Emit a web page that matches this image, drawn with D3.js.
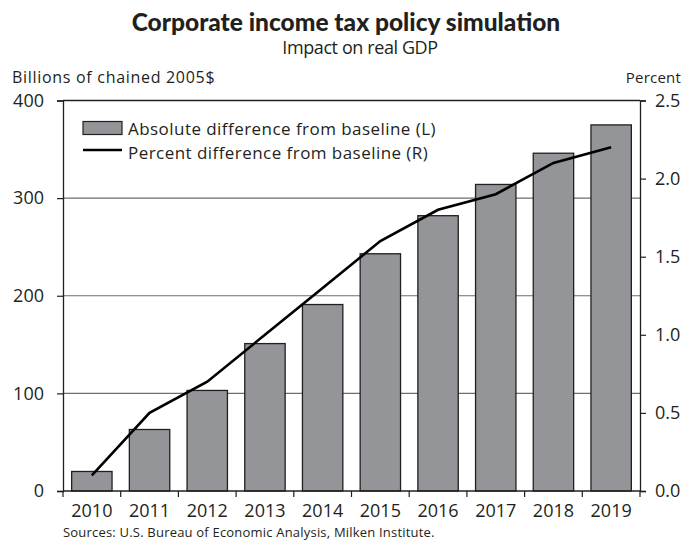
<!DOCTYPE html>
<html>
<head>
<meta charset="utf-8">
<script src="https://cdn.jsdelivr.net/npm/d3@7"></script>
<style>
  html, body { margin: 0; padding: 0; background: #fff; }
  svg { display: block; font-family: "Open Sans", "Noto Sans", sans-serif; }
</style>
</head>
<body>
<svg id="chart" width="685" height="541"></svg>
<script>
// GDP impact of the corporate income tax simulation, 2010-2019
const years = ["2010", "2011", "2012", "2013", "2014", "2015", "2016", "2017", "2018", "2019"];
const absoluteDiff = [20, 63, 103, 151, 191, 243, 282, 314, 346, 375];   // billions of chained 2005$
const percentDiff = [0.1, 0.5, 0.7, 1.0, 1.3, 1.6, 1.8, 1.9, 2.1, 2.2];  // percent
const leftTicks = [0, 100, 200, 300, 400];
const rightTicks = [0, 0.5, 1.0, 1.5, 2.0, 2.5];
const legendLabels = ["Absolute difference from baseline (L)", "Percent difference from baseline (R)"];

const W = 685, H = 541;
const margin = { top: 100.5, right: 45, bottom: 50, left: 63 };
const ink = "#231f20";
const font = "'Open Sans', 'Noto Sans', sans-serif";
const svg = d3.select("#chart");

const x = d3.scaleBand().domain(years)
  .range([margin.left, W - margin.right]).paddingInner(0.3).paddingOuter(0.15);
const yL = d3.scaleLinear().domain([0, 400]).range([H - margin.bottom, margin.top]);
const yR = d3.scaleLinear().domain([0, 2.5]).range([H - margin.bottom, margin.top]);

// horizontal gridlines
svg.append("g").selectAll("line")
  .data(leftTicks.filter(d => d > 0 && d < 400)).join("line")
  .attr("x1", margin.left).attr("x2", W - margin.right)
  .attr("y1", d => yL(d)).attr("y2", d => yL(d))
  .attr("stroke", "#6d6e71").attr("stroke-width", 1.2);

// bars
svg.append("g").selectAll("rect")
  .data(years).join("rect")
  .attr("x", d => x(d))
  .attr("width", x.bandwidth())
  .attr("y", (d, i) => yL(absoluteDiff[i]))
  .attr("height", (d, i) => yL(0) - yL(absoluteDiff[i]))
  .attr("fill", "#939598")
  .attr("stroke", ink).attr("stroke-width", 1.3);

// percent line
const line = d3.line()
  .x((d, i) => x(years[i]) + x.bandwidth() / 2)
  .y(d => yR(d));
svg.append("path").datum(percentDiff)
  .attr("d", line).attr("fill", "none")
  .attr("stroke", "#000").attr("stroke-width", 2.6);

// top border of the frame
svg.append("line")
  .attr("x1", margin.left).attr("x2", W - margin.right)
  .attr("y1", yL(400)).attr("y2", yL(400))
  .attr("stroke", ink).attr("stroke-width", 1.3);

// left axis
const leftAxis = svg.append("g")
  .attr("transform", `translate(${margin.left},0)`)
  .call(d3.axisLeft(yL).tickValues(leftTicks).tickSize(6).tickPadding(5).tickFormat(d3.format("d")));
// right axis
const rightAxis = svg.append("g")
  .attr("transform", `translate(${W - margin.right},0)`)
  .call(d3.axisRight(yR).tickValues(rightTicks).tickSize(6).tickPadding(9).tickFormat(d3.format(".1f")));
// bottom axis, with ticks on the band boundaries
const bottomAxis = svg.append("g")
  .attr("transform", `translate(0,${H - margin.bottom})`)
  .call(d3.axisBottom(x).tickSize(0).tickPadding(13));
const boundaries = d3.range(years.length + 1)
  .map(i => margin.left + i * (W - margin.left - margin.right) / years.length);
bottomAxis.selectAll(".bnd").data(boundaries).join("line")
  .attr("class", "bnd")
  .attr("x1", d => d).attr("x2", d => d).attr("y1", 0).attr("y2", 6)
  .attr("stroke", ink).attr("stroke-width", 1.2);

[leftAxis, rightAxis, bottomAxis].forEach(g => {
  g.select(".domain").attr("stroke", ink).attr("stroke-width", 1.3);
  g.selectAll(".tick line").attr("stroke", ink).attr("stroke-width", 1.2);
  g.selectAll("text").attr("fill", ink).style("font-size", "18px").style("font-family", font);
});
leftAxis.selectAll("text").attr("text-anchor", "end").attr("x", -19);
bottomAxis.select(".domain").attr("d", `M${margin.left},0H${W - margin.right}`);

// titles and notes
svg.append("text").attr("x", 346).attr("y", 31).attr("text-anchor", "middle")
  .style("font-family", "Lato, 'Open Sans', sans-serif")
  .style("font-size", "24.5px").style("font-weight", "900").attr("fill", ink)
  .text("Corporate income tax policy simulation");
svg.append("text").attr("x", 360).attr("y", 54).attr("text-anchor", "middle")
  .style("font-size", "18px").style("letter-spacing", "-0.4px").attr("fill", ink)
  .text("Impact on real GDP");
svg.append("text").attr("x", 12).attr("y", 83)
  .style("font-size", "16px").style("letter-spacing", "0.7px").attr("fill", ink)
  .text("Billions of chained 2005$");
svg.append("text").attr("x", 681).attr("y", 83).attr("text-anchor", "end")
  .style("font-size", "15px").style("letter-spacing", "0.2px").attr("fill", ink)
  .text("Percent");
svg.append("text").attr("x", 63).attr("y", 537)
  .style("font-size", "13px").style("letter-spacing", "0.2px").attr("fill", ink)
  .text("Sources: U.S. Bureau of Economic Analysis, Milken Institute.");

// legend
const lg = svg.append("g").attr("transform", "translate(83,121.5)");
lg.append("rect").attr("x", 0).attr("y", 0).attr("width", 39).attr("height", 13)
  .attr("fill", "#939598").attr("stroke", ink).attr("stroke-width", 1.2);
lg.append("line").attr("x1", 0).attr("x2", 39).attr("y1", 28.5).attr("y2", 28.5)
  .attr("stroke", "#000").attr("stroke-width", 2.4);
lg.selectAll("text.lab").data(legendLabels).join("text")
  .attr("class", "lab")
  .attr("x", 45).attr("y", (d, i) => 13 + i * 24.5)
  .style("font-size", "17px").style("letter-spacing", "0.45px").attr("fill", ink)
  .text(d => d);
</script>
</body>
</html>
